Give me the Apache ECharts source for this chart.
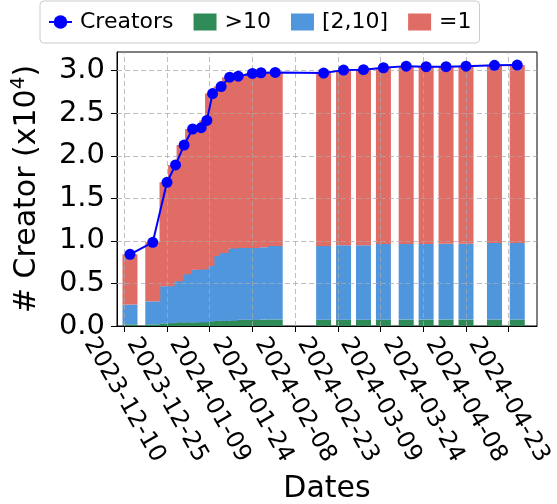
<!DOCTYPE html>
<html><head><meta charset="utf-8">
<script src="https://cdn.jsdelivr.net/npm/echarts@6/dist/echarts.min.js"></script>
<style>html,body{margin:0;padding:0;background:#fff}#c{width:557px;height:504px}</style>
</head><body><div id="c"></div>
<script>
// ---- data (values in units of 10^4 creators) ----
const dates = ['2023-12-12','2023-12-20','2023-12-25','2023-12-28','2023-12-31','2024-01-03','2024-01-06','2024-01-08','2024-01-10','2024-01-13','2024-01-16','2024-01-19','2024-01-24','2024-01-27','2024-02-01','2024-02-18','2024-02-25','2024-03-03','2024-03-10','2024-03-18','2024-03-25','2024-04-01','2024-04-08','2024-04-18','2024-04-26'];
const creators = [0.842,0.984,1.689,1.893,2.126,2.315,2.330,2.416,2.732,2.814,2.924,2.936,2.968,2.976,2.980,2.972,3.007,3.012,3.035,3.054,3.047,3.047,3.054,3.063,3.066];
const over10 = [0.019,0.019,0.031,0.043,0.043,0.043,0.043,0.050,0.063,0.063,0.063,0.074,0.074,0.075,0.076,0.074,0.074,0.074,0.074,0.075,0.075,0.075,0.075,0.076,0.076];
const from2to10 = [0.233,0.271,0.437,0.484,0.566,0.617,0.622,0.654,0.759,0.794,0.849,0.842,0.844,0.850,0.864,0.866,0.874,0.874,0.890,0.889,0.889,0.891,0.891,0.900,0.900];
const exactly1 = [0.590,0.694,1.221,1.366,1.517,1.655,1.665,1.712,1.910,1.957,2.012,2.020,2.050,2.051,2.040,2.032,2.059,2.064,2.071,2.090,2.083,2.081,2.088,2.087,2.090];
const xTickLabels = ['2023-12-10','2023-12-25','2024-01-09','2024-01-24','2024-02-08','2024-02-23','2024-03-09','2024-03-24','2024-04-08','2024-04-23'];
const yTickLabels = [0.0,0.5,1.0,1.5,2.0,2.5,3.0];

// ---- build ----
const toTs = s => { const p = s.split('-').map(Number); return Date.UTC(p[0], p[1]-1, p[2]); };
const DAY = 86400000;
const xs = dates.map(toTs);
const tickTs = xTickLabels.map(toTs);
const xMin = tickTs[0] - 2.5625 * DAY;
const xMax = xMin + 147.5 * DAY;
const GRID_W = 420, BAR_W = 15;
// ECharts widens a time axis that carries bars by half a bar on each side; pre-shrink so both x axes coincide
const barPad = (BAR_W / 2) / GRID_W * (xMax - xMin);
const FONT = 'DejaVu Sans';
const pairs = arr => xs.map((x, i) => [x, arr[i]]);
const fmtDate = v => new Date(v).toISOString().slice(0, 10);

const chart = echarts.init(document.getElementById('c'), null, {renderer: 'canvas'});
const barCommon = {type: 'bar', stack: 's', barWidth: BAR_W, z: 2, xAxisIndex: 0};
chart.setOption({
  useUTC: true,
  animation: false,
  textStyle: {fontFamily: FONT},
  legend: {
    left: 40, top: 1,
    padding: [10, 8, 10, 8],
    itemGap: 20, itemWidth: 23, itemHeight: 17,
    borderColor: '#cccccc', borderWidth: 1, borderRadius: 4,
    textStyle: {fontFamily: FONT, fontSize: 22, color: '#000', padding: [0, 0, 0, 3]},
    data: [
      {name: 'Creators'},
      {name: '>10', icon: 'rect'},
      {name: '[2,10]', icon: 'rect'},
      {name: '=1', icon: 'rect'}
    ]
  },
  grid: {left: 117, right: 20, top: 52, bottom: 178, show: true, borderColor: '#000', borderWidth: 1, outerBoundsMode: 'none'},
  xAxis: [{
    type: 'time', min: xMin + barPad, max: xMax - barPad, show: true,
    axisLine: {show: false}, axisTick: {show: false}, axisLabel: {show: false}, splitLine: {show: false}
  }, {
    type: 'value', min: xMin, max: xMax, position: 'bottom',
    name: 'Dates', nameLocation: 'middle', nameGap: 146,
    nameTextStyle: {fontFamily: FONT, fontSize: 30, color: '#000'},
    axisLine: {show: true, onZero: false, lineStyle: {color: '#000', width: 1}},
    axisTick: {show: true, customValues: tickTs, length: 6, lineStyle: {color: '#000'}},
    axisLabel: {
      customValues: tickTs, rotate: -60, align: 'center', verticalAlign: 'middle', margin: 74,
      formatter: v => fmtDate(v), fontFamily: FONT, fontSize: 24, color: '#000'
    },
    splitLine: {show: false}
  }],
  yAxis: {
    type: 'value', min: 0, max: 3.22,
    name: '# Creator (x10{sup|4})', nameLocation: 'middle', nameGap: 72, nameRotate: 90,
    nameTextStyle: {fontFamily: FONT, fontSize: 30, color: '#000',
      rich: {sup: {fontFamily: FONT, fontSize: 20, color: '#000', verticalAlign: 'top', padding: [0, 0, 16, 0]}}},
    axisLine: {show: true, lineStyle: {color: '#000', width: 1}},
    axisTick: {show: true, customValues: yTickLabels, length: 6, lineStyle: {color: '#000'}},
    axisLabel: {customValues: yTickLabels, formatter: v => v.toFixed(1), fontFamily: FONT, fontSize: 29, color: '#000', margin: 12},
    splitLine: {show: false}
  },
  series: [
    Object.assign({}, barCommon, {name: '>10', data: pairs(over10), itemStyle: {color: '#2e8b57'}}),
    Object.assign({}, barCommon, {name: '[2,10]', data: pairs(from2to10), itemStyle: {color: '#5096dc'}}),
    Object.assign({}, barCommon, {name: '=1', data: pairs(exactly1), itemStyle: {color: '#e06c66'}}),
    {
      type: 'line', name: 'grid', xAxisIndex: 1, data: pairs(creators), showSymbol: false, z: 3, silent: true,
      lineStyle: {opacity: 0},
      markLine: {
        silent: true, symbol: 'none', animation: false, label: {show: false},
        lineStyle: {type: [5, 3], color: 'rgba(170,170,170,0.75)', width: 1},
        data: yTickLabels.filter(v => v > 0).map(v => ({yAxis: v})).concat(tickTs.map(t => ({xAxis: t})))
      }
    },
    {
      type: 'line', name: 'Creators', xAxisIndex: 0, data: pairs(creators), z: 5,
      symbol: 'circle', symbolSize: 11, showSymbol: true,
      itemStyle: {color: '#0000ff'}, lineStyle: {color: '#0000ff', width: 2}
    }
  ]
});
</script></body></html>
